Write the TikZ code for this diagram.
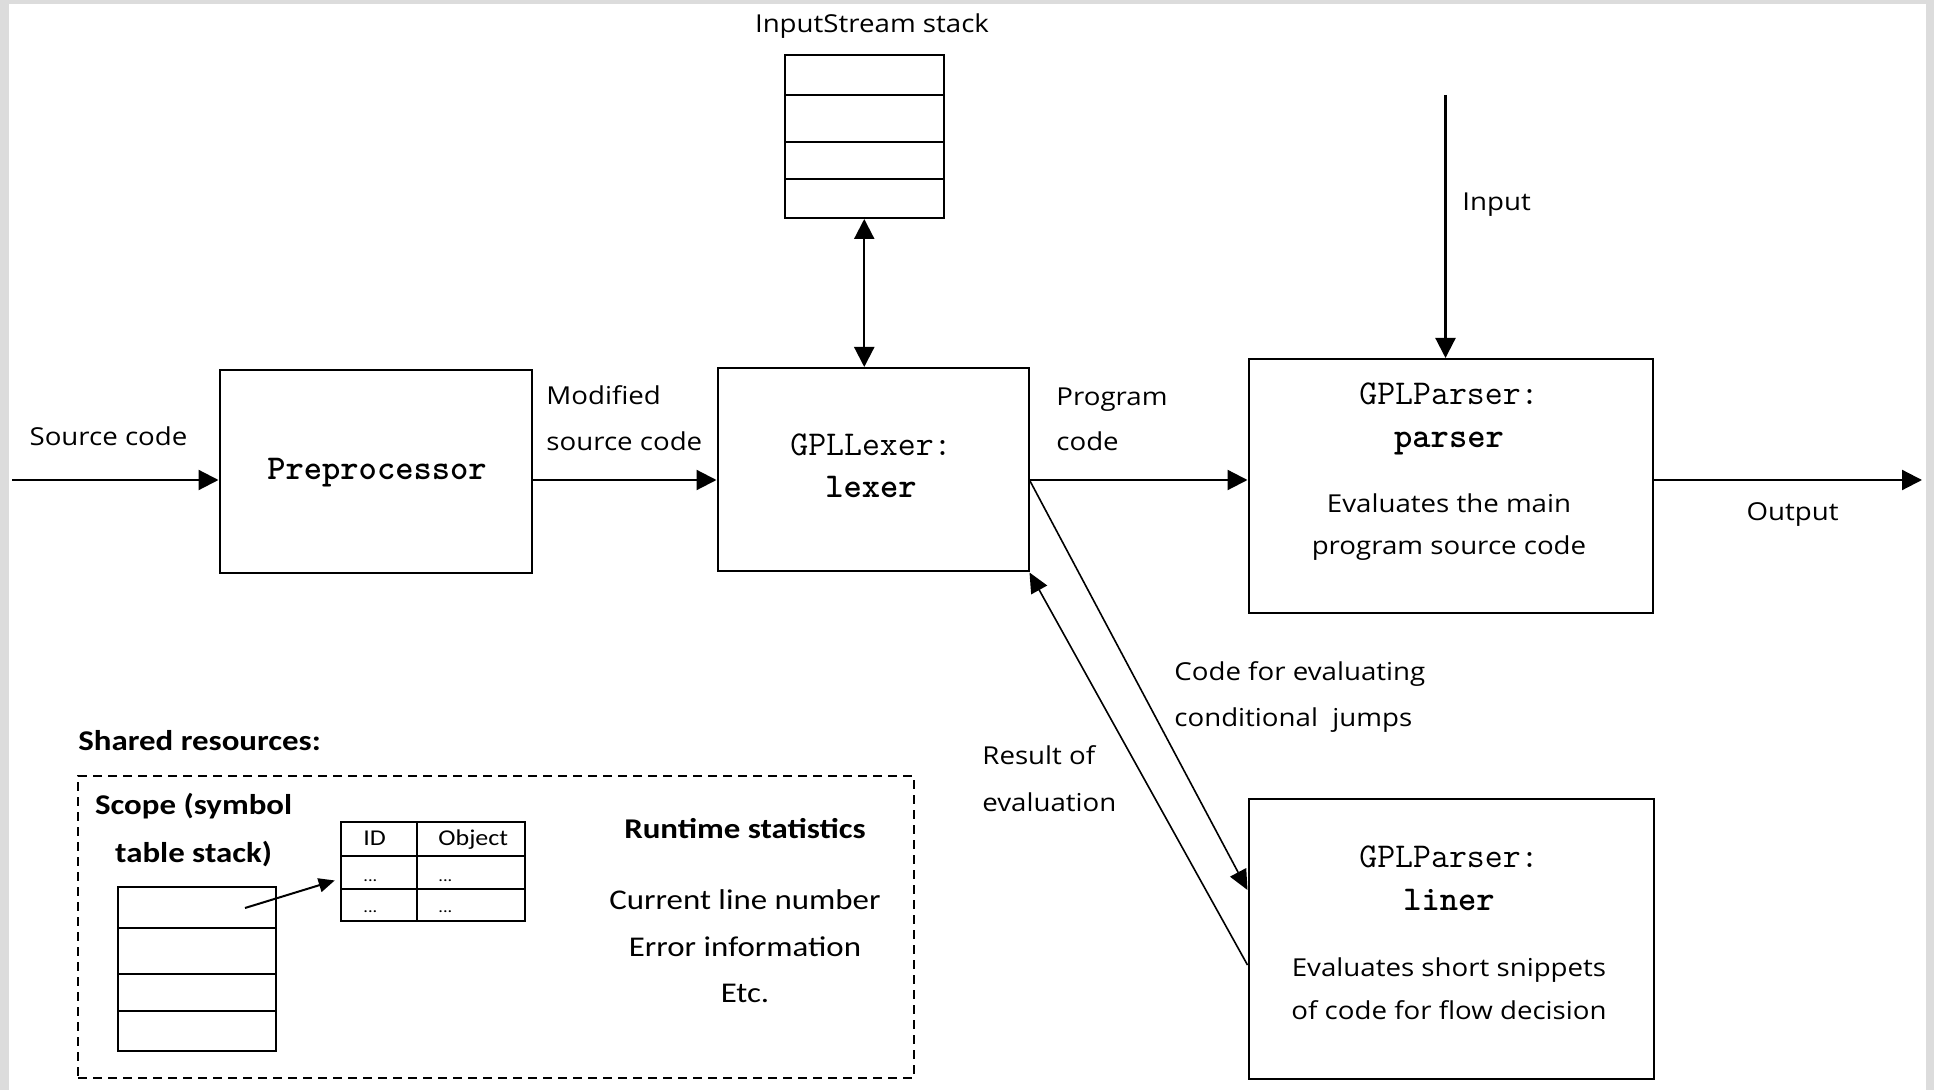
\documentclass[tikz,border=0pt]{standalone}
\usepackage{fontspec}
\newfontfamily\labf[FakeStretch=1.12]{Open Sans}
\newfontfamily\calf[FakeStretch=1.15]{Carlito}
\usetikzlibrary{arrows.meta,fit}
\definecolor{framegray}{RGB}{220,220,220}
\begin{document}
\begin{tikzpicture}[x=0.5pt,y=-0.5pt,
  box/.style={draw, line width=1pt, inner sep=0pt},
  lab/.style={font=\labf\fontsize{12.35}{14}\selectfont, inner sep=0pt, text height=8.8pt, text depth=0pt},
  mono/.style={font=\ttfamily\fontsize{17.4}{20}\selectfont, inner sep=0pt, text height=10.6pt, text depth=0pt},
  monob/.style={font=\ttfamily\bfseries\fontsize{17.4}{20}\selectfont, inner sep=0pt, text height=10.6pt, text depth=0pt},
  cal/.style={font=\calf\fontsize{14.3}{17}\selectfont, inner sep=0pt, text height=9.2pt, text depth=0pt},
  calb/.style={font=\calf\bfseries\fontsize{14.3}{17}\selectfont, inner sep=0pt, text height=9.2pt, text depth=0pt},
  tiny/.style={font=\calf\fontsize{11.3}{13}\selectfont, inner sep=0pt, text height=7.3pt, text depth=0pt},
  arr/.style={line width=1.1pt, -{Triangle[length=10pt,width=10pt]}},
  dblarr/.style={line width=1.1pt, {Triangle[length=10pt,width=10pt]}-{Triangle[length=10pt,width=10pt]}},
  diag/.style={line width=0.8pt, -{Triangle[length=10pt,width=9pt]}},
  smallarr/.style={line width=1pt, -{Triangle[length=8pt,width=7pt]}}
]
% background and frame
\fill[framegray] (0,0) rectangle (1934,1090);
\fill[white] (9,4) rectangle (1926,1090);
\useasboundingbox (0,0) rectangle (1934,1090);

% reference coordinates
\coordinate (mainline) at (0,480);
\coordinate (srcin) at (12,480);
\coordinate (outend) at (1922,480);
\coordinate (inpstart) at (1445.5,95);
\coordinate (condy) at (0,890);
\coordinate (resy) at (0,965);

% boxes
\node[box, fit={(219.5,370) (531.5,573.5)}] (pre) {};
\node[box, fit={(717.5,368) (1028.5,571.5)}] (lex) {};
\node[box, fit={(1248.5,359) (1653,613)}] (parser) {};
\node[box, fit={(1248.5,798.5) (1653.5,1078.5)}] (liner) {};

% InputStream stack
\node[box, fit={(784.5,55) (944,218)}] (stk) {};
\draw[line width=1pt] (784.5,95) -- (944,95);
\draw[line width=1pt] (784.5,142) -- (944,142);
\draw[line width=1pt] (784.5,179) -- (944,179);
\node[lab] (isl) at (872,24) {InputStream stack};

% box texts
\node[monob] (pretxt) at (377,469) {Preprocessor};
\node[mono] (lex1) at (871,445) {GPLLexer:};
\node[monob] (lex2) at (871,487) {lexer};
\node[mono] (par1) at (1449,394) {GPLParser:};
\node[monob] (par2) at (1449,437) {parser};
\node[lab] (par3) at (1449,504) {Evaluates the main};
\node[lab] (par4) at (1449,546) {program source code};
\node[mono] (lin1) at (1449,857) {GPLParser:};
\node[monob] (lin2) at (1449,900) {liner};
\node[lab] (lin3) at (1449,968) {Evaluates short snippets};
\node[lab] (lin4) at (1449,1011) {of code for flow decision};

% connectors
\draw[arr] (srcin) -- (srcin -| pre.west);
\draw[arr] (pre.east |- mainline) -- (lex.west |- mainline);
\draw[arr] (lex.east |- mainline) -- (parser.west |- mainline);
\draw[arr] (parser.east |- mainline) -- (outend);
\draw[arr] (inpstart) -- (inpstart |- parser.north);
\draw[dblarr] (stk.south) -- (stk.south |- lex.north);
\draw[diag] (lex.east |- mainline) -- (liner.west |- condy);
\draw[diag] (liner.west |- resy) -- (lex.south east);

% connector labels
\node[lab] (srcl) at (108.5,437) {Source code};
\node[lab, anchor=west] (mod1) at (546,396) {Modified};
\node[lab, anchor=west] (mod2) at (546,441.5) {source code};
\node[lab, anchor=west] (prg1) at (1056,397) {Program};
\node[lab, anchor=west] (prg2) at (1056,441.5) {code};
\node[lab, anchor=west] (inpl) at (1462,202) {Input};
\node[lab] (outl) at (1792.5,512) {Output};
\node[lab, anchor=west] (cnd1) at (1174,672) {Code for evaluating};
\node[lab, anchor=west] (cnd2) at (1174,718) {conditional\ \ jumps};
\node[lab, anchor=west] (res1) at (982,756) {Result of};
\node[lab, anchor=west] (res2) at (982,803) {evaluation};

% shared resources
\node[calb, anchor=west] (shl) at (78,741) {Shared resources:};
\node[draw, line width=0.9pt, dash pattern=on 4.5pt off 3pt, inner sep=0pt, fit={(78,776) (914,1078)}] (shared) {};
\node[calb] (scp1) at (193.6,805.5) {Scope (symbol};
\node[calb] (scp2) at (193.6,853.5) {table stack)};
\node[box, fit={(118,886.5) (275.5,1051)}] (scp) {};
\draw[line width=1pt] (118,927.5) -- (275.5,927.5);
\draw[line width=1pt] (118,974) -- (275.5,974);
\draw[line width=1pt] (118,1011) -- (275.5,1011);

\node[box, fit={(340.5,822) (525,920.5)}] (tbl) {};
\draw[line width=1pt] (417,822) -- (417,920.5);
\draw[line width=1pt] (340.5,856) -- (525,856);
\draw[line width=1pt] (340.5,889) -- (525,889);
\node[tiny, anchor=west] (tid) at (363,838) {ID};
\node[tiny, anchor=west] (tobj) at (438,838) {Object};
\node[tiny, anchor=base west, font=\calf\fontsize{8}{9}\selectfont] (d1) at (363,881) {...};
\node[tiny, anchor=base west, font=\calf\fontsize{8}{9}\selectfont] (d2) at (438,881) {...};
\node[tiny, anchor=base west, font=\calf\fontsize{8}{9}\selectfont] (d3) at (363,912) {...};
\node[tiny, anchor=base west, font=\calf\fontsize{8}{9}\selectfont] (d4) at (438,912) {...};
\coordinate (scpptr) at (245,908);
\coordinate (tblrow) at (0,879);
\draw[smallarr, shorten >=2.5pt] (scpptr) -- (tbl.west |- tblrow);

\node[calb] (rt1) at (745,829) {Runtime statistics};
\node[cal] (rt2) at (745,900) {Current line number};
\node[cal] (rt3) at (745,947) {Error information};
\node[cal] (rt4) at (745,993) {Etc.};
\end{tikzpicture}
\end{document}
